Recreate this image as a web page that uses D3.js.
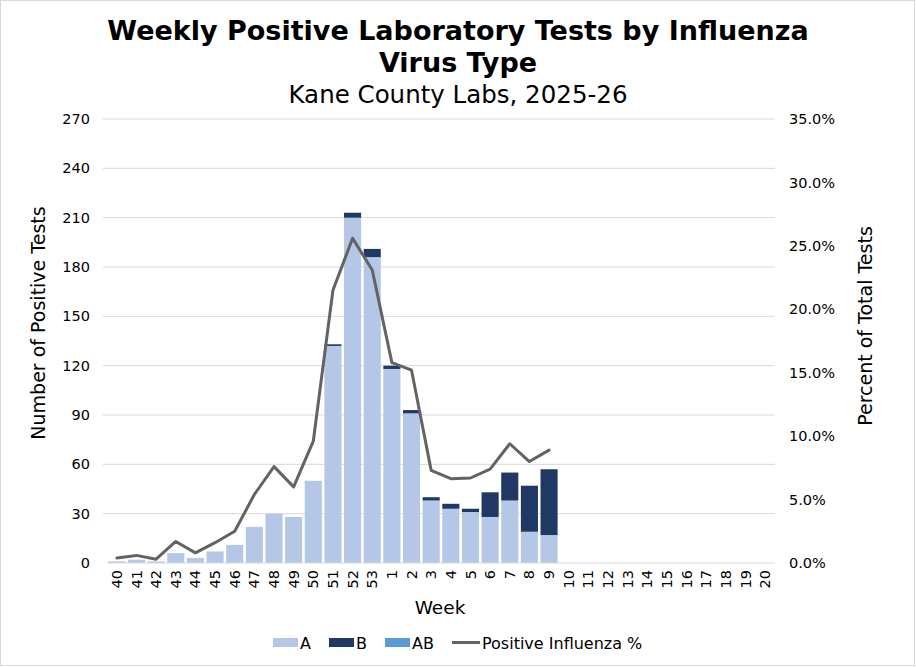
<!DOCTYPE html>
<html><head><meta charset="utf-8">
<script src="https://cdn.jsdelivr.net/npm/d3@7"></script>
<style>body{margin:0;background:#fff;}svg{display:block;font-family:"DejaVu Sans",Verdana,sans-serif;}</style>
</head><body><svg id="c" width="916" height="667"></svg>
<script>
const weeks = ["40","41","42","43","44","45","46","47","48","49","50","51","52","53","1","2","3","4","5","6","7","8","9","10","11","12","13","14","15","16","17","18","19","20"];
const valuesA  = [1,2,1,6,3,7,11,22,30,28,50,132,210,186,118,91,38,33,31,28,38,19,17];
const valuesB  = [0,0,0,0,0,0,0,0,0,0,0,1,3,5,2,2,2,3,2,15,17,28,40];
const valuesAB = [0,0,0,0,0,0,0,0,0,0,0,0,0,0,0,0,0,0,0,0,0,0,0];
const pctPositive = [0.4,0.6,0.3,1.7,0.8,1.6,2.5,5.4,7.6,6.0,9.6,21.5,25.6,23.1,15.8,15.2,7.3,6.65,6.7,7.4,9.4,8.0,8.9];
const leftTicks = [0,30,60,90,120,150,180,210,240,270];
const rightTicks = [0,5,10,15,20,25,30,35];

const svg = d3.select("#c");
const W = 916, H = 667;
const m = {left:107, right:775, top:119, bottom:563};

svg.append("rect").attr("x",0.5).attr("y",0.5).attr("width",W-2).attr("height",H-2)
  .attr("fill","#fff").attr("stroke","#d9d9d9");

const x = d3.scaleBand().domain(weeks).range([m.left,m.right]).paddingInner(0.13).paddingOuter(0.065);
const y = d3.scaleLinear().domain([0,270]).range([m.bottom,m.top]);
const y2 = d3.scaleLinear().domain([0,35]).range([m.bottom,m.top]);

// gridlines
svg.append("g").selectAll("line").data(leftTicks.slice(1)).join("line")
  .attr("x1",m.left-4).attr("x2",m.right).attr("y1",d=>y(d)).attr("y2",d=>y(d))
  .attr("stroke","#d9d9d9").attr("stroke-width",1);

// stacked bars
const rows = valuesA.map((a,i)=>({week:weeks[i],A:a,B:valuesB[i],AB:valuesAB[i]}));
const stack = d3.stack().keys(["A","B","AB"])(rows);
const colors = {A:"#b4c7e7",B:"#1f3864",AB:"#5b9bd5"};
svg.append("g").selectAll("g").data(stack).join("g").attr("fill",d=>colors[d.key])
  .selectAll("rect").data(d=>d).join("rect")
  .attr("x",d=>x(d.data.week)).attr("width",x.bandwidth())
  .attr("y",d=>y(d[1])).attr("height",d=>y(d[0])-y(d[1]));

// baseline
svg.append("line").attr("x1",m.left).attr("x2",m.right).attr("y1",m.bottom).attr("y2",m.bottom)
  .attr("stroke","#d9d9d9");

// line
const line = d3.line().x((d,i)=>x(weeks[i])+x.bandwidth()/2).y(d=>y2(d));
svg.append("path").datum(pctPositive).attr("d",line).attr("fill","none")
  .attr("stroke","#636363").attr("stroke-width",3).attr("stroke-linejoin","round").attr("stroke-linecap","round");

// left axis
const ax = d3.axisLeft(y).tickValues(leftTicks).tickSize(0).tickPadding(0);
const gl = svg.append("g").attr("transform",`translate(${m.left-17},0)`).call(ax);
gl.select(".domain").remove();
gl.selectAll("text").attr("font-size",14.5).attr("fill","#000").attr("font-family","DejaVu Sans");

// right axis
const ar = d3.axisRight(y2).tickValues(rightTicks).tickSize(0).tickPadding(0).tickFormat(d=>d.toFixed(1)+"%");
const gr = svg.append("g").attr("transform",`translate(${m.right+14},0)`).call(ar);
gr.select(".domain").remove();
gr.selectAll("text").attr("font-size",14.5).attr("fill","#000").attr("font-family","DejaVu Sans");

// x axis
const axb = d3.axisBottom(x).tickSize(0).tickPadding(0);
const gb = svg.append("g").attr("transform",`translate(0,${m.bottom})`).call(axb);
gb.select(".domain").remove();
gb.selectAll("text").attr("font-size",14.5).attr("fill","#000").attr("font-family","DejaVu Sans")
  .attr("transform","rotate(-90)").attr("text-anchor","end").attr("dy","0.35em").attr("x",-7).attr("y",0);

// titles
svg.append("text").attr("x",458).attr("y",40).attr("text-anchor","middle").attr("font-weight","bold")
  .attr("font-size",27).text("Weekly Positive Laboratory Tests by Influenza");
svg.append("text").attr("x",458).attr("y",72).attr("text-anchor","middle").attr("font-weight","bold")
  .attr("font-size",27).text("Virus Type");
svg.append("text").attr("x",458).attr("y",103).attr("text-anchor","middle")
  .attr("font-size",24.5).text("Kane County Labs, 2025-26");

svg.append("text").attr("x",440).attr("y",614).attr("text-anchor","middle").attr("font-size",18.5).text("Week");
svg.append("text").attr("transform","translate(45,323) rotate(-90)").attr("text-anchor","middle")
  .attr("font-size",19).text("Number of Positive Tests");
svg.append("text").attr("transform","translate(872,326) rotate(-90)").attr("text-anchor","middle")
  .attr("font-size",19).text("Percent of Total Tests");

// legend
const lg = svg.append("g").attr("font-size",16);
const items = [
  {label:"A",type:"rect",color:colors.A,x:273},
  {label:"B",type:"rect",color:colors.B,x:329},
  {label:"AB",type:"rect",color:colors.AB,x:385},
  {label:"Positive Influenza %",type:"line",color:"#636363",x:452}
];
items.forEach(it=>{
  if(it.type==="rect"){
    lg.append("rect").attr("x",it.x).attr("y",638).attr("width",25).attr("height",9).attr("fill",it.color);
  } else {
    lg.append("line").attr("x1",it.x).attr("x2",it.x+28).attr("y1",642.5).attr("y2",642.5)
      .attr("stroke",it.color).attr("stroke-width",3);
  }
  lg.append("text").attr("x",it.x+(it.type==="rect"?27:30)).attr("y",648.5).text(it.label);
});
</script></body></html>
